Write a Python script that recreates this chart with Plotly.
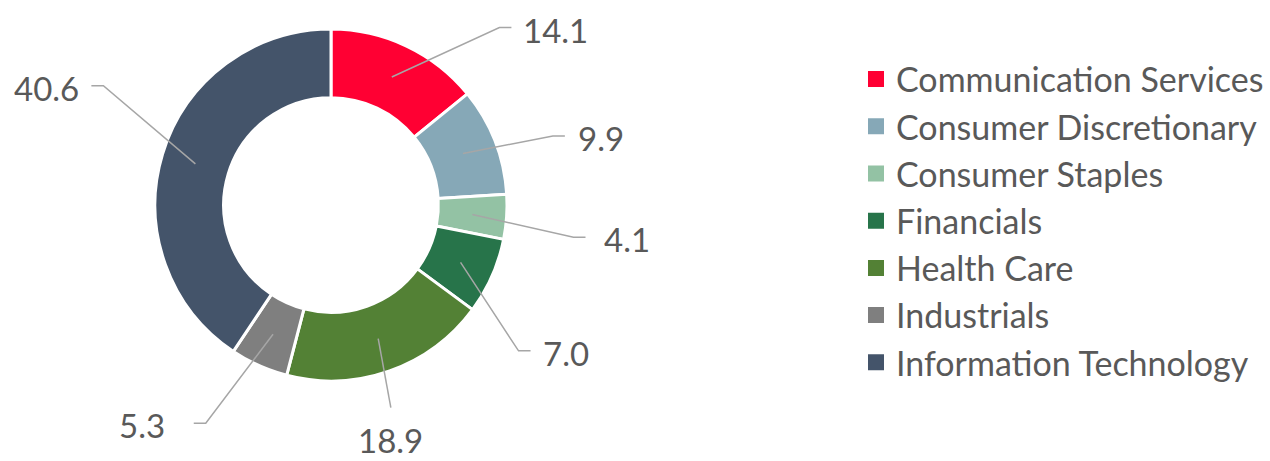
import math
import plotly.graph_objects as go

# ---- data ----
categories = ["Communication Services", "Consumer Discretionary", "Consumer Staples",
              "Financials", "Health Care", "Industrials", "Information Technology"]
values = [14.1, 9.9, 4.1, 7.0, 18.9, 5.3, 40.6]
value_labels = ["14.1", "9.9", "4.1", "7.0", "18.9", "5.3", "40.6"]

# ---- styling / layout ----
colors = ["#FF0033", "#86A8B7", "#93C2A4", "#27744A", "#538135", "#7F7F7F", "#44546A"]
W, H = 1270, 461
CX, CY, R = 331, 205, 176          # donut centre / outer radius (px)
HOLE = 0.61
FONT = "Lato"
TXT = "#595959"
LEADER = "#A6A6A6"
FS = 33
LFS = 34

# label placement: angle offset from slice middle (deg), radial factor, side, text gap
label_angle_off = [18.1, 4.1, 3.7, 14.0, 3.0, 5.7, 10.8]
label_radius = [1.39, 1.32, 1.39, 1.35, 1.20, 1.43, 1.46]
label_side = [1, 1, 1, 1, 0, -1, -1]
label_gap = [10, 11, 16, 10, 0, 27, 10]
SEG = 12


def px(x):
    return x / W


def py(y):
    return 1 - y / H


fig = go.Figure()
fig.add_trace(go.Pie(
    labels=categories, values=values, sort=False, direction="clockwise", rotation=0,
    hole=HOLE, marker=dict(colors=colors, line=dict(color="white", width=3)),
    textinfo="none", hoverinfo="label+value", showlegend=False,
    domain=dict(x=[px(CX - R), px(CX + R)], y=[py(CY + R), py(CY - R)]),
))

# legend entries (square swatches) for each category
for cat, col in zip(categories, colors):
    fig.add_trace(go.Scatter(
        x=[None], y=[None], mode="markers", name=cat,
        marker=dict(symbol="square", size=16, color=col),
        showlegend=True, hoverinfo="skip",
    ))

total = sum(values)
cum = 0.0
shapes = []
annotations = []
r_mid = R * (1 + HOLE) / 2
for i, v in enumerate(values):
    mid = (cum + v / 2) / total * 360.0
    cum += v
    a = math.radians(mid)
    sx, sy = CX + r_mid * math.sin(a), CY - r_mid * math.cos(a)
    b = math.radians(mid + label_angle_off[i])
    rr = R * label_radius[i]
    ex, ey = CX + rr * math.sin(b), CY - rr * math.cos(b)
    side = label_side[i]
    if side == 0:
        path = f"M {px(sx)},{py(sy)} L {px(ex)},{py(ey)}"
        annotations.append(dict(x=px(ex), y=py(ey + 32), xref="paper", yref="paper",
                                text=value_labels[i], showarrow=False,
                                xanchor="center", yanchor="middle",
                                font=dict(family=FONT, size=FS, color=TXT)))
    else:
        hx = ex + side * SEG
        path = f"M {px(sx)},{py(sy)} L {px(ex)},{py(ey)} L {px(hx)},{py(ey)}"
        annotations.append(dict(x=px(hx + side * label_gap[i]), y=py(ey + 2),
                                xref="paper", yref="paper",
                                text=value_labels[i], showarrow=False,
                                xanchor="left" if side > 0 else "right", yanchor="middle",
                                font=dict(family=FONT, size=FS, color=TXT)))
    shapes.append(dict(type="path", path=path, xref="paper", yref="paper",
                       line=dict(color=LEADER, width=1.5)))

fig.update_layout(
    width=W, height=H, margin=dict(l=0, r=0, t=0, b=0),
    paper_bgcolor="white", plot_bgcolor="white",
    shapes=shapes, annotations=annotations,
    showlegend=True,
    xaxis=dict(visible=False), yaxis=dict(visible=False),
    legend=dict(x=px(856), y=py(221), xanchor="left", yanchor="middle",
                font=dict(family=FONT, size=LFS, color=TXT),
                tracegroupgap=0, itemclick=False, itemdoubleclick=False),
)

fig.write_html("out.html", config={"displayModeBar": False},
               post_script="document.body.style.margin='0';document.body.style.overflow='hidden';")
